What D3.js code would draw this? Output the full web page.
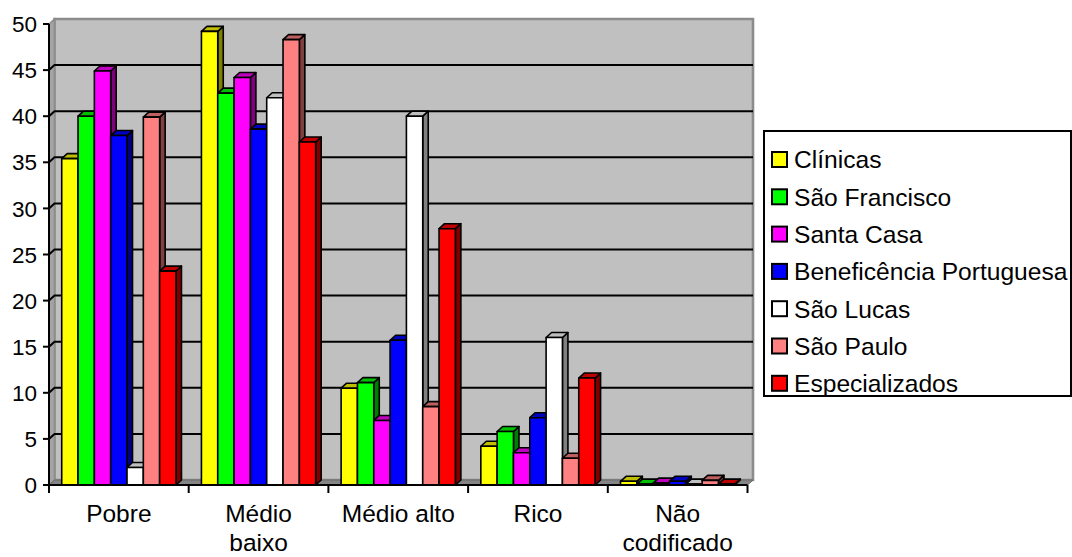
<!DOCTYPE html>
<html>
<head>
<meta charset="utf-8">
<script src="https://cdn.jsdelivr.net/npm/d3@7"></script>
<style>
  html, body { margin: 0; padding: 0; background: #ffffff; }
  svg { display: block; font-family: "Liberation Sans", Arial, sans-serif; }
</style>
</head>
<body>
<svg id="chart" width="1072" height="557"></svg>
<script>
// Income class of patients by hospital (%)
const categories = ["Pobre", "Médio baixo", "Médio alto", "Rico", "Não codificado"];
const categoryLines = [["Pobre"], ["Médio", "baixo"], ["Médio alto"], ["Rico"], ["Não", "codificado"]];
const seriesNames = ["Clínicas", "São Francisco", "Santa Casa", "Beneficência Portuguesa", "São Lucas", "São Paulo", "Especializados"];
const seriesColors = ["#ffff00", "#00ff00", "#ff00ff", "#0000ff", "#ffffff", "#ff8080", "#ff0000"];

const clinicas       = [35.4, 49.2, 10.5, 4.2, 0.4];
const saoFrancisco   = [40.0, 42.5, 11.1, 5.8, 0.1];
const santaCasa      = [44.9, 44.2, 7.0, 3.5, 0.2];
const beneficencia   = [37.9, 38.6, 15.7, 7.3, 0.4];
const saoLucas       = [1.9, 42.0, 40.0, 16.0, 0.1];
const saoPaulo       = [39.9, 48.3, 8.5, 2.9, 0.5];
const especializados = [23.2, 37.2, 27.8, 11.6, 0.1];
const seriesValues = [clinicas, saoFrancisco, santaCasa, beneficencia, saoLucas, saoPaulo, especializados];

const yTicks = [0, 5, 10, 15, 20, 25, 30, 35, 40, 45, 50];

// 3D depth offset of the wall/floor and the columns
const DX = 5.5, DY = 5;

const svg = d3.select("#chart");

const x0 = d3.scaleBand().domain(categories).range([49, 747.5]).paddingInner(0).paddingOuter(0);
const x1 = d3.scaleBand().domain(seriesNames).range([0, x0.bandwidth()]).paddingInner(0).paddingOuter(0.78);
const y = d3.scaleLinear().domain([0, 50]).range([485, 24]);

const xL = x0.range()[0], xR = x0.range()[1];
const yB = y(0), yT = y(50);

// back wall
svg.append("path")
  .attr("d", `M${xL + DX},${yT - DY} L${xR + DX},${yT - DY} L${xR + DX},${yB - DY} L${xL + DX},${yB - DY} Z`)
  .attr("fill", "#c0c0c0")
  .attr("stroke", "#8c8c8c").attr("stroke-width", 2.6);

// side wall
svg.append("path")
  .attr("d", `M${xL},${yB} L${xL},${yT} L${xL + DX},${yT - DY} L${xL + DX},${yB - DY} Z`)
  .attr("fill", "#a4a4a4")
  .attr("stroke", "#8c8c8c").attr("stroke-width", 1.5);

// floor
svg.append("path")
  .attr("d", `M${xL},${yB} L${xL + DX},${yB - DY} L${xR + DX},${yB - DY} L${xR},${yB} Z`)
  .attr("fill", "#858585")
  .attr("stroke", "#6a6a6a").attr("stroke-width", 1);

// gridlines on the walls
const grid = svg.append("g");
yTicks.filter(v => v > 0 && v < 50).forEach(v => {
  grid.append("path")
    .attr("d", `M${xL},${y(v)} L${xL + DX},${y(v) - DY} L${xR + DX},${y(v) - DY}`)
    .attr("fill", "none")
    .attr("stroke", "#000").attr("stroke-width", 2);
});

// columns
function shade(c, k) {
  const rgb = d3.rgb(c);
  return d3.rgb(rgb.r * k, rgb.g * k, rgb.b * k).formatHex();
}
const bars = svg.append("g");
categories.forEach((cat, ci) => {
  seriesNames.forEach((name, si) => {
    const v = seriesValues[si][ci];
    const bx = x0(cat) + x1(name);
    const bw = x1.bandwidth();
    const by = y(v);
    const g = bars.append("g")
      .attr("stroke", "#000").attr("stroke-width", 1.6).attr("stroke-linejoin", "round");
    // side face
    g.append("path")
      .attr("d", `M${bx + bw},${yB} L${bx + bw},${by} L${bx + bw + DX},${by - DY} L${bx + bw + DX},${yB - DY} Z`)
      .attr("fill", shade(seriesColors[si], 0.5));
    // top face
    g.append("path")
      .attr("d", `M${bx},${by} L${bx + DX},${by - DY} L${bx + bw + DX},${by - DY} L${bx + bw},${by} Z`)
      .attr("fill", shade(seriesColors[si], 0.75));
    // front face
    g.append("rect")
      .attr("x", bx).attr("y", by)
      .attr("width", bw).attr("height", yB - by)
      .attr("fill", seriesColors[si]);
  });
});

// value axis
const yAxis = svg.append("g");
yAxis.append("line")
  .attr("x1", xL).attr("x2", xL).attr("y1", yT).attr("y2", yB + 1)
  .attr("stroke", "#000").attr("stroke-width", 2);
yTicks.forEach(v => {
  yAxis.append("line")
    .attr("x1", xL - 6).attr("x2", xL).attr("y1", y(v)).attr("y2", y(v))
    .attr("stroke", "#000").attr("stroke-width", 2);
  yAxis.append("text")
    .attr("x", xL - 12).attr("y", y(v)).attr("dy", "0.36em")
    .attr("text-anchor", "end")
    .attr("font-size", 22.5).attr("fill", "#000")
    .text(v);
});

// category axis
const xAxis = svg.append("g");
xAxis.append("line")
  .attr("x1", xL - 1).attr("x2", xR).attr("y1", yB).attr("y2", yB)
  .attr("stroke", "#000").attr("stroke-width", 2.2);
const tickXs = categories.map(c => x0(c)).concat([xR]);
tickXs.forEach(tx => {
  xAxis.append("line")
    .attr("x1", tx).attr("x2", tx).attr("y1", yB).attr("y2", yB + 8)
    .attr("stroke", "#000").attr("stroke-width", 2);
});
categories.forEach((cat, ci) => {
  const t = xAxis.append("text")
    .attr("x", x0(cat) + x0.bandwidth() / 2)
    .attr("y", 522)
    .attr("text-anchor", "middle")
    .attr("font-size", 24.5).attr("fill", "#000");
  categoryLines[ci].forEach((line, li) => {
    t.append("tspan")
      .attr("x", x0(cat) + x0.bandwidth() / 2)
      .attr("dy", li === 0 ? 0 : 29)
      .text(line);
  });
});

// legend
const legend = svg.append("g");
legend.append("rect")
  .attr("x", 764).attr("y", 131).attr("width", 307).attr("height", 265)
  .attr("fill", "#fff").attr("stroke", "#000").attr("stroke-width", 2);
seriesNames.forEach((name, si) => {
  const cy = 159.5 + si * 37.3;
  legend.append("rect")
    .attr("x", 772).attr("y", cy - 7.5).attr("width", 15).attr("height", 15)
    .attr("fill", seriesColors[si]).attr("stroke", "#000").attr("stroke-width", 2);
  legend.append("text")
    .attr("x", 794).attr("y", cy).attr("dy", "0.36em")
    .attr("font-size", 24.6).attr("fill", "#000")
    .text(name);
});
</script>
</body>
</html>
